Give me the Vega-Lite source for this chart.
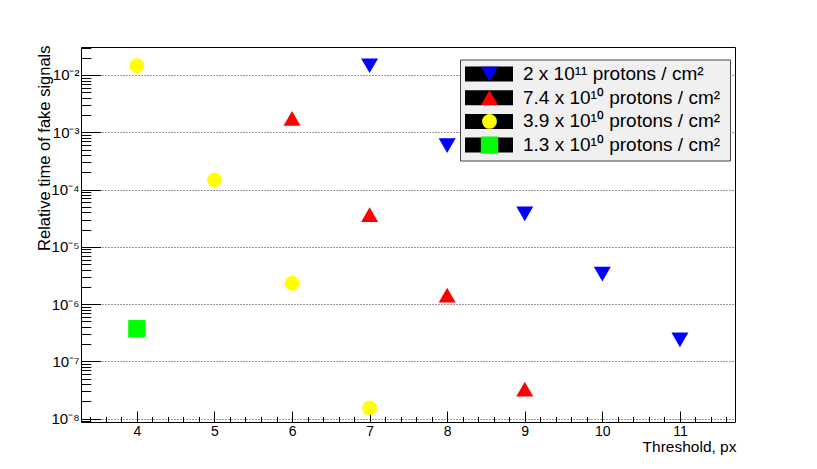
{
  "$schema": "https://vega.github.io/schema/vega-lite/v6.json",
  "width": 654,
  "height": 375,
  "autosize": "none",
  "padding": {"left": 81, "top": 47, "right": 82, "bottom": 47},
  "background": "white",
  "config": {
    "view": {"stroke": "black", "strokeWidth": 1},
    "font": "Liberation Sans"
  },
  "data": {
    "values": [
      {"threshold": 7, "time": 1.45e-2, "series": "2 x 10¹¹ protons / cm²", "label": "2 x 10¹¹ protons / cm²"},
      {"threshold": 8, "time": 5.83e-4, "series": "2 x 10¹¹ protons / cm²", "label": "2 x 10¹¹ protons / cm²"},
      {"threshold": 9, "time": 3.77e-5, "series": "2 x 10¹¹ protons / cm²", "label": "2 x 10¹¹ protons / cm²"},
      {"threshold": 10, "time": 3.35e-6, "series": "2 x 10¹¹ protons / cm²", "label": "2 x 10¹¹ protons / cm²"},
      {"threshold": 11, "time": 2.37e-7, "series": "2 x 10¹¹ protons / cm²", "label": "2 x 10¹¹ protons / cm²"},
      {"threshold": 6, "time": 1.75e-3, "series": "7.4 x 10¹⁰  protons / cm²", "label": "7.4 x 10¹⁰  protons / cm²"},
      {"threshold": 7, "time": 3.64e-5, "series": "7.4 x 10¹⁰  protons / cm²", "label": "7.4 x 10¹⁰  protons / cm²"},
      {"threshold": 8, "time": 1.44e-6, "series": "7.4 x 10¹⁰  protons / cm²", "label": "7.4 x 10¹⁰  protons / cm²"},
      {"threshold": 9, "time": 3.29e-8, "series": "7.4 x 10¹⁰  protons / cm²", "label": "7.4 x 10¹⁰  protons / cm²"},
      {"threshold": 4, "time": 1.45e-2, "series": "3.9 x 10¹⁰ protons / cm²", "label": "3.9 x 10¹⁰ protons / cm²"},
      {"threshold": 5, "time": 1.47e-4, "series": "3.9 x 10¹⁰ protons / cm²", "label": "3.9 x 10¹⁰ protons / cm²"},
      {"threshold": 6, "time": 2.31e-6, "series": "3.9 x 10¹⁰ protons / cm²", "label": "3.9 x 10¹⁰ protons / cm²"},
      {"threshold": 7, "time": 1.54e-8, "series": "3.9 x 10¹⁰ protons / cm²", "label": "3.9 x 10¹⁰ protons / cm²"},
      {"threshold": 4, "time": 3.72e-7, "series": "1.3 x 10¹⁰ protons / cm²", "label": "1.3 x 10¹⁰ protons / cm²"}
    ]
  },
  "layer": [
    {
      "mark": {"type": "point", "opacity": 0},
      "encoding": {
        "x": {
          "field": "threshold", "type": "quantitative",
          "scale": {"domain": [3.28, 11.71], "nice": false, "zero": false},
          "axis": {
            "orient": "bottom", "title": null, "labels": false, "domain": false, "grid": false,
            "ticks": true, "tickSize": -5.6, "tickColor": "black", "tickWidth": 1,
            "values": [3.4, 3.6, 3.8, 4.2, 4.4, 4.6, 4.8, 5.2, 5.4, 5.6, 5.8, 6.2, 6.4, 6.6, 6.8, 7.2, 7.4, 7.6, 7.8, 8.2, 8.4, 8.6, 8.8, 9.2, 9.4, 9.6, 9.8, 10.2, 10.4, 10.6, 10.8, 11.2, 11.4, 11.6]
          }
        },
        "y": {
          "field": "time", "type": "quantitative",
          "scale": {"type": "log", "domain": [8.75e-9, 3.08e-2], "nice": false},
          "axis": {
            "orient": "left", "title": null, "labels": false, "domain": false, "grid": false,
            "ticks": true, "tickSize": -9.8, "tickColor": "black", "tickWidth": 1,
            "values": [9e-9, 2e-8, 3e-8, 4e-8, 5e-8, 6e-8, 7e-8, 8e-8, 9e-8, 2e-7, 3e-7, 4e-7, 5e-7, 6e-7, 7e-7, 8e-7, 9e-7, 2e-6, 3e-6, 4e-6, 5e-6, 6e-6, 7e-6, 8e-6, 9e-6, 2e-5, 3e-5, 4e-5, 5e-5, 6e-5, 7e-5, 8e-5, 9e-5, 2e-4, 3e-4, 4e-4, 5e-4, 6e-4, 7e-4, 8e-4, 9e-4, 2e-3, 3e-3, 4e-3, 5e-3, 6e-3, 7e-3, 8e-3, 9e-3, 2e-2, 3e-2]
          }
        }
      }
    },
    {
      "mark": {"type": "point", "opacity": 0},
      "encoding": {
        "x": {
          "field": "threshold", "type": "quantitative",
          "scale": {"domain": [3.28, 11.71], "nice": false, "zero": false},
          "axis": {
            "orient": "bottom", "title": null, "labels": false, "domain": false, "grid": false,
            "ticks": true, "tickSize": -11, "tickColor": "black", "tickWidth": 1,
            "values": [4, 5, 6, 7, 8, 9, 10, 11]
          }
        },
        "y": {
          "field": "time", "type": "quantitative",
          "scale": {"type": "log", "domain": [8.75e-9, 3.08e-2], "nice": false},
          "axis": {
            "orient": "left", "title": null, "labels": false, "domain": false, "grid": false,
            "ticks": true, "tickSize": -19.6, "tickColor": "black", "tickWidth": 1,
            "values": [1e-8, 1e-7, 1e-6, 1e-5, 1e-4, 1e-3, 1e-2]
          }
        }
      }
    },
    {
      "mark": {"type": "point", "filled": true, "strokeWidth": 0},
      "encoding": {
        "x": {
          "field": "threshold", "type": "quantitative",
          "scale": {"domain": [3.28, 11.71], "nice": false, "zero": false},
          "axis": {
            "orient": "bottom", "domain": false, "grid": false, "ticks": false, "tickSize": 0,
            "values": [4, 5, 6, 7, 8, 9, 10, 11],
            "labelFont": "Liberation Sans", "labelFontSize": 14, "labelColor": "black", "labelPadding": 2,
            "title": "Threshold, px", "titleFont": "Liberation Sans", "titleFontSize": 15.5,
            "titleFontWeight": "normal", "titleColor": "black",
            "titleX": 655, "titleY": 29, "titleAlign": "right", "titleBaseline": "alphabetic"
          }
        },
        "y": {
          "field": "time", "type": "quantitative",
          "scale": {"type": "log", "domain": [8.75e-9, 3.08e-2], "nice": false},
          "axis": {
            "orient": "left", "domain": false, "ticks": false, "tickSize": 0,
            "grid": true, "gridColor": "#333333", "gridDash": [1, 2], "gridWidth": 1, "gridOpacity": 1,
            "values": [1e-8, 1e-7, 1e-6, 1e-5, 1e-4, 1e-3, 1e-2],
            "labelExpr": "'10' + ['⁰','⁻¹','⁻²','⁻³','⁻⁴','⁻⁵','⁻⁶','⁻⁷','⁻⁸','⁻⁹'][round(-log(datum.value) / LN10)]",
            "labelFont": "Liberation Sans", "labelFontSize": 15, "labelColor": "black", "labelPadding": 2,
            "title": "Relative time  of fake signals", "titleFont": "Liberation Sans", "titleFontSize": 16.5,
            "titleFontWeight": "normal", "titleColor": "black",
            "titleX": -32, "titleY": -2, "titleAngle": 270, "titleAlign": "right", "titleBaseline": "alphabetic"
          }
        },
        "color": {
          "field": "series", "type": "nominal",
          "scale": {
            "domain": ["2 x 10¹¹ protons / cm²", "7.4 x 10¹⁰  protons / cm²", "3.9 x 10¹⁰ protons / cm²", "1.3 x 10¹⁰ protons / cm²"],
            "range": ["#0000ff", "#ff0000", "#ffff00", "#00ff00"]
          },
          "legend": {
            "title": null, "orient": "none", "direction": "vertical", "legendX": 379, "legendY": 12.5,
            "padding": 5, "rowPadding": 3.7, "clipHeight": 19,
            "symbolOffset": 15, "labelOffset": 24, "symbolStrokeWidth": 0, "symbolOpacity": 1,
            "labelFont": "Liberation Sans", "labelFontSize": 19, "labelColor": "black", "labelLimit": 500,
            "zindex": 2,
            "encode": {"symbols": {"update": {"opacity": {"value": 1}, "fillOpacity": {"value": 1}}}}
          }
        },
        "shape": {
          "field": "series", "type": "nominal",
          "scale": {
            "domain": ["2 x 10¹¹ protons / cm²", "7.4 x 10¹⁰  protons / cm²", "3.9 x 10¹⁰ protons / cm²", "1.3 x 10¹⁰ protons / cm²"],
            "range": ["triangle-down", "triangle-up", "circle", "square"]
          }
        },
        "size": {
          "field": "series", "type": "nominal",
          "scale": {
            "type": "ordinal",
            "domain": ["2 x 10¹¹ protons / cm²", "7.4 x 10¹⁰  protons / cm²", "3.9 x 10¹⁰ protons / cm²", "1.3 x 10¹⁰ protons / cm²"],
            "range": [289, 289, 219, 300]
          }
        },
        "opacity": {
          "field": "label", "type": "nominal",
          "sort": ["2 x 10¹¹ protons / cm²", "7.4 x 10¹⁰  protons / cm²", "3.9 x 10¹⁰ protons / cm²", "1.3 x 10¹⁰ protons / cm²"],
          "scale": {"range": [1, 1, 1, 1]},
          "legend": {
            "title": null, "orient": "none", "direction": "vertical", "legendX": 379, "legendY": 12.5,
            "padding": 5, "rowPadding": 3.7, "clipHeight": 19,
            "fillColor": "#f0f0f0", "strokeColor": "#444444",
            "symbolType": "M-1,-0.3125H1V0.3125H-1Z", "symbolSize": 2304,
            "symbolFillColor": "black", "symbolStrokeWidth": 0, "symbolOpacity": 1,
            "labelOffset": 9, "labelOpacity": 0,
            "labelFont": "Liberation Sans", "labelFontSize": 19, "labelColor": "black", "labelLimit": 500,
            "zindex": 1,
            "encode": {"symbols": {"update": {"fill": {"value": "black"}, "opacity": {"value": 1}}}}
          }
        }
      }
    }
  ],
  "resolve": {"axis": {"x": "independent", "y": "independent"}}
}
